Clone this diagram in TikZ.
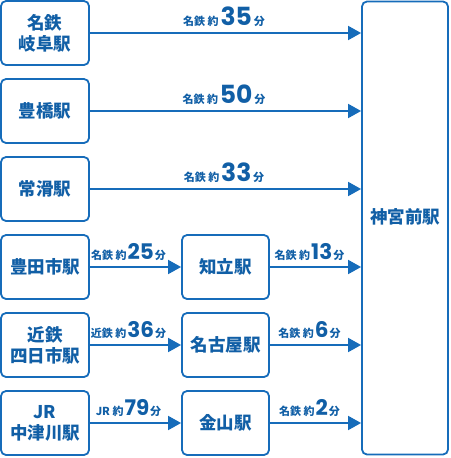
\documentclass[tikz,border=0pt]{standalone}
\usepackage{fontspec}
\setmainfont{Noto Sans CJK JP}
\newfontfamily\numfont{Poppins}
\usetikzlibrary{arrows.meta}
\definecolor{lineblue}{HTML}{166CBA}
\definecolor{textblue}{HTML}{115FA6}
\tikzset{
  stbox/.style={draw=lineblue, line width=1.8pt, rounded corners=5pt, fill=white,
    text=textblue, align=center, minimum height=64pt, inner sep=0pt,
    font=\fontsize{17.5}{21}\selectfont\bfseries},
  leftbox/.style={stbox, minimum width=88pt},
  midbox/.style={stbox, minimum width=87pt},
  arr/.style={draw=lineblue, line width=1.8pt, -{Triangle[length=13pt,width=14pt]}},
  lbl/.style={text=textblue, anchor=base, yshift=8pt, inner sep=0pt,
    font=\fontsize{11}{11}\selectfont\bfseries},
}
\newcommand{\bignum}[1]{\,{\numfont\bfseries\fontsize{25}{25}\selectfont #1}\,}
\newcommand{\midnum}[1]{\kern1pt{\numfont\bfseries\fontsize{21.5}{22}\selectfont #1}\kern1pt}
\begin{document}
\begin{tikzpicture}[x=1pt,y=-1pt]
\useasboundingbox (0,0) rectangle (450,458);
% big destination box
\node[stbox, minimum width=86pt, minimum height=453pt] (jingu) at (405,228) {};
\node[text=textblue, font=\fontsize{17.5}{21}\selectfont\bfseries] (jingulbl) at (405,217) {神宮前駅};
% left column
\node[leftbox] (gifu) at (45,33) {名鉄\\岐阜駅};
\node[leftbox] (toyohashi) at (45,111) {豊橋駅};
\node[leftbox] (tokoname) at (45,189) {常滑駅};
\node[leftbox] (toyota) at (45,267) {豊田市駅};
\node[leftbox] (yokkaichi) at (45,345) {近鉄\\四日市駅};
\node[leftbox] (nakatsugawa) at (45,423) {JR\\中津川駅};
% middle column
\node[midbox] (chiryu) at (225.5,267) {知立駅};
\node[midbox] (nagoya) at (225.5,345) {名古屋駅};
\node[midbox] (kanayama) at (225.5,423) {金山駅};
% arrows
\draw[arr] (gifu.east) -- (gifu.east -| jingu.west)
  node[lbl, pos=0.5, xshift=-1.5pt] {名鉄 約\bignum{35}分};
\draw[arr] (toyohashi.east) -- (toyohashi.east -| jingu.west)
  node[lbl, pos=0.5, xshift=-1.5pt] {名鉄 約\bignum{50}分};
\draw[arr] (tokoname.east) -- (tokoname.east -| jingu.west)
  node[lbl, pos=0.5, xshift=-1.5pt] {名鉄 約\bignum{33}分};
\draw[arr] (toyota.east) -- (chiryu.west)
  node[lbl, pos=0.5, xshift=-7pt] {名鉄 約\midnum{25}分};
\draw[arr] (yokkaichi.east) -- (nagoya.west)
  node[lbl, pos=0.5, xshift=-7pt] {近鉄 約\midnum{36}分};
\draw[arr] (nakatsugawa.east) -- (kanayama.west)
  node[lbl, pos=0.5, xshift=-7pt] {JR 約\midnum{79}分};
\draw[arr] (chiryu.east) -- (chiryu.east -| jingu.west)
  node[lbl, pos=0.5, xshift=-6pt] {名鉄 約\midnum{13}分};
\draw[arr] (nagoya.east) -- (nagoya.east -| jingu.west)
  node[lbl, pos=0.5, xshift=-6pt] {名鉄 約\midnum{6}分};
\draw[arr] (kanayama.east) -- (kanayama.east -| jingu.west)
  node[lbl, pos=0.5, xshift=-6pt] {名鉄 約\midnum{2}分};
\end{tikzpicture}
\end{document}
